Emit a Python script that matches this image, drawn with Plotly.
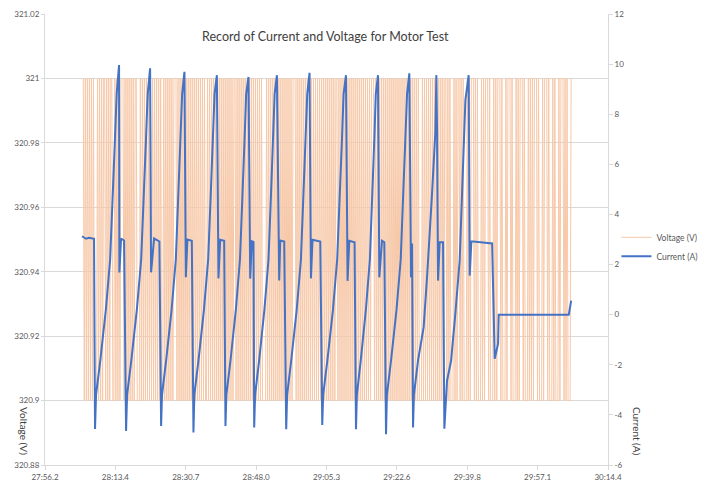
import plotly.graph_objects as go

# ---------------- data ----------------
# Current (A): time in seconds (27:56.2 = 1676.2 s) and value
current_t = [
    1685.29, 1686.27, 1687.01, 1688.24,
    1688.48, 1688.73, 1689.79, 1691.14, 1692.19, 1692.78, 1693.37, 1693.79, 1694.38, 1694.46, 1694.87, 1695.61,
    1696.10, 1696.35, 1697.40, 1698.75, 1699.81, 1700.40, 1700.99, 1701.41, 1702.00, 1702.24, 1702.98, 1704.28,
    1704.70, 1704.92, 1705.95, 1707.28, 1708.31, 1708.88, 1709.44, 1709.86, 1710.43, 1710.77, 1711.16, 1712.24,
    1712.64, 1712.86, 1713.89, 1715.22, 1716.25, 1716.84, 1717.40, 1717.82, 1718.39, 1718.78, 1719.20, 1720.18,
    1720.50, 1720.72, 1721.75, 1723.05, 1724.06, 1724.63, 1725.19, 1725.58, 1726.15, 1726.57, 1726.98, 1727.38,
    1727.55, 1727.77, 1728.78, 1730.06, 1731.06, 1731.63, 1732.17, 1732.56, 1733.13, 1733.69, 1733.94, 1734.92,
    1735.41, 1735.63, 1736.66, 1737.99, 1739.02, 1739.59, 1740.15, 1740.57, 1741.14, 1741.48, 1741.87, 1743.77,
    1744.26, 1744.48, 1745.53, 1746.89, 1747.92, 1748.51, 1749.10, 1749.49, 1750.08, 1750.47, 1750.89, 1752.19,
    1752.54, 1752.76, 1753.72, 1754.97, 1755.95, 1756.49, 1757.03, 1757.40, 1757.94, 1758.26, 1758.92, 1759.49,
    1759.91, 1760.13, 1761.16, 1762.49, 1763.52, 1764.08, 1764.65, 1765.07, 1765.63, 1766.05, 1766.30,
    1766.54, 1766.76, 1767.79, 1769.15, 1769.98, 1771.21, 1772.02, 1772.27, 1772.44, 1772.68, 1773.08, 1773.91,
    1774.23, 1774.89, 1775.88, 1776.93, 1777.99, 1778.58, 1779.39, 1780.20, 1780.45, 1780.86, 1785.95,
    1786.59, 1787.42, 1787.57, 1804.77, 1805.36,
]
current_a = [
    3.13, 3.03, 3.07, 3.03,
    -4.56, -3.2, -1.8, 0.2, 2.2, 4.6, 7.0, 8.8, 9.96, 1.68, 3.04, 2.96,
    -4.64, -3.2, -1.8, 0.2, 2.2, 4.6, 7.0, 8.8, 9.83, 1.69, 3.04, 2.92,
    -4.44, -3.2, -1.8, 0.2, 2.2, 4.6, 7.0, 8.8, 9.69, 1.49, 3.00, 2.95,
    -4.70, -3.2, -1.8, 0.2, 2.2, 4.6, 7.0, 8.8, 9.56, 1.45, 2.99, 2.95,
    -4.44, -3.2, -1.8, 0.2, 2.2, 4.6, 7.0, 8.8, 9.49, 1.44, 2.93, 2.90,
    -4.50, -3.2, -1.8, 0.2, 2.2, 4.6, 7.0, 8.8, 9.56, 1.36, 2.96, 2.92,
    -4.57, -3.2, -1.8, 0.2, 2.2, 4.6, 7.0, 8.8, 9.65, 1.45, 2.99, 2.92,
    -4.40, -3.2, -1.8, 0.2, 2.2, 4.6, 7.0, 8.8, 9.56, 1.35, 2.95, 2.89,
    -4.57, -3.2, -1.8, 0.2, 2.2, 4.6, 7.0, 8.8, 9.56, 1.49, 2.95, 2.89,
    -4.77, -3.2, -1.8, 0.2, 2.2, 4.6, 7.0, 8.8, 9.63, 1.49, 2.84,
    -4.50, -3.2, -1.8, -0.5, 1.49, 4.84, 7.29, 9.56, 7.36, 1.36, 2.89, 2.89,
    -4.55, -2.64, -1.84, 0.04, 2.16, 4.84, 8.56, 9.56, 1.56, 2.93, 2.84,
    -1.76, -1.16, 0.0, 0.0, 0.56,
]

# Voltage (V): samples every 0.25 s starting at 28:05.6; '1' = 321.0 V, '0' = 320.9 V
voltage_start = 1685.6
voltage_step = 0.25
voltage_pattern = (
    "10101010101000101010"
    "11010101100101010111"
    "01010101010110001010"
    "10101010101010101001"
    "01010101011101010101"
    "01010101010101010101"
    "00101010101010101010"
    "10101010110101010101"
    "01010101010101010000"
    "10101010101010101010"
    "10101011101010101010"
    "10101010101010101010"
    "10101010110101010101"
    "01010101010101010101"
    "01011101010101010101"
    "01010101010101010101"
    "01010101010001010101"
    "01010101010101011010"
    "10001010110101000101"
    "01110101000101011101"
    "00010101110100010111"
    "01000101011101000101"
    "01011101000101110100"
    "01010001011101010001"
)
voltage_levels = {"1": 321.0, "0": 320.9}

# Axis ticks
x_tickvals = [1676.2, 1693.48, 1710.75, 1728.03, 1745.3, 1762.58, 1779.85, 1797.13, 1814.4]
x_ticktext = ["27:56.2", "28:13.4", "28:30.7", "28:48.0", "29:05.3", "29:22.6", "29:39.8", "29:57.1", "30:14.4"]
v_tickvals = [320.88, 320.9, 320.92, 320.94, 320.96, 320.98, 321.0, 321.02]
v_ticktext = ["320.88", "320.9", "320.92", "320.94", "320.96", "320.98", "321", "321.02"]
a_tickvals = [-6, -4, -2, 0, 2, 4, 6, 8, 10, 12]
a_ticktext = ["-6", "-4", "-2", "0", "2", "4", "6", "8", "10", "12"]

voltage_t = [voltage_start + i * voltage_step for i in range(len(voltage_pattern))]
voltage_v = [voltage_levels[c] for c in voltage_pattern]

# ---------------- figure ----------------
FONT = "Lato"
GRID = "#D9D9D9"
TXT = "#595959"

fig = go.Figure()
fig.add_trace(go.Scatter(
    x=voltage_t, y=voltage_v, mode="lines", name="Voltage (V)",
    line=dict(color="rgb(247,200,168)", width=1, simplify=False),
    yaxis="y",
))
fig.add_trace(go.Scatter(
    x=current_t, y=current_a, mode="lines", name="Current (A)",
    line=dict(color="#4472C4", width=2, simplify=False),
    yaxis="y2",
))

fig.update_layout(
    width=699, height=475,
    margin=dict(l=37, r=99, t=6, b=18, autoexpand=False),
    paper_bgcolor="white", plot_bgcolor="white",
    font=dict(family=FONT, size=8, color=TXT),
    showlegend=True,
    legend=dict(
        x=1.015, y=0.537, xanchor="left", yanchor="top",
        font=dict(family=FONT, size=8.5, color=TXT),
        itemwidth=30, tracegroupgap=0, bgcolor="rgba(0,0,0,0)",
    ),
    xaxis=dict(
        range=[1676.2, 1814.4], tickvals=x_tickvals, ticktext=x_ticktext,
        showgrid=False, zeroline=False,
        showline=True, linecolor=GRID, linewidth=1,
        ticks="outside", ticklen=4, tickcolor=GRID,
        tickfont=dict(family=FONT, size=8, color=TXT),
    ),
    yaxis=dict(
        range=[320.88, 321.02], tickvals=v_tickvals, ticktext=v_ticktext,
        showgrid=True, gridcolor=GRID, gridwidth=1, zeroline=False,
        showline=True, linecolor=GRID, linewidth=1,
        ticks="outside", ticklen=3, tickcolor=GRID,
        tickfont=dict(family=FONT, size=8, color=TXT),
    ),
    yaxis2=dict(
        range=[-6, 12], tickvals=a_tickvals, ticktext=a_ticktext,
        overlaying="y", side="right",
        showgrid=False, zeroline=False,
        showline=True, linecolor=GRID, linewidth=1,
        ticks="outside", ticklen=4, tickcolor=GRID,
        tickfont=dict(family=FONT, size=8, color=TXT),
    ),
    annotations=[
        dict(text="Record of Current and Voltage for Motor Test",
             xref="paper", yref="paper", x=0.498, y=1.0 - (37 - 14) / 451.5,
             xanchor="center", yanchor="middle", showarrow=False,
             font=dict(family=FONT, size=12.5, color="#404040")),
        dict(text="Voltage (V)", xref="paper", yref="paper",
             x=-0.037, y=0.075, xanchor="center", yanchor="middle",
             textangle=90, showarrow=False,
             font=dict(family=FONT, size=10, color="#404040")),
        dict(text="Current (A)", xref="paper", yref="paper",
             x=1.052, y=0.075, xanchor="center", yanchor="middle",
             textangle=90, showarrow=False,
             font=dict(family=FONT, size=10, color="#404040")),
    ],
)

fig.write_html("out.html")
